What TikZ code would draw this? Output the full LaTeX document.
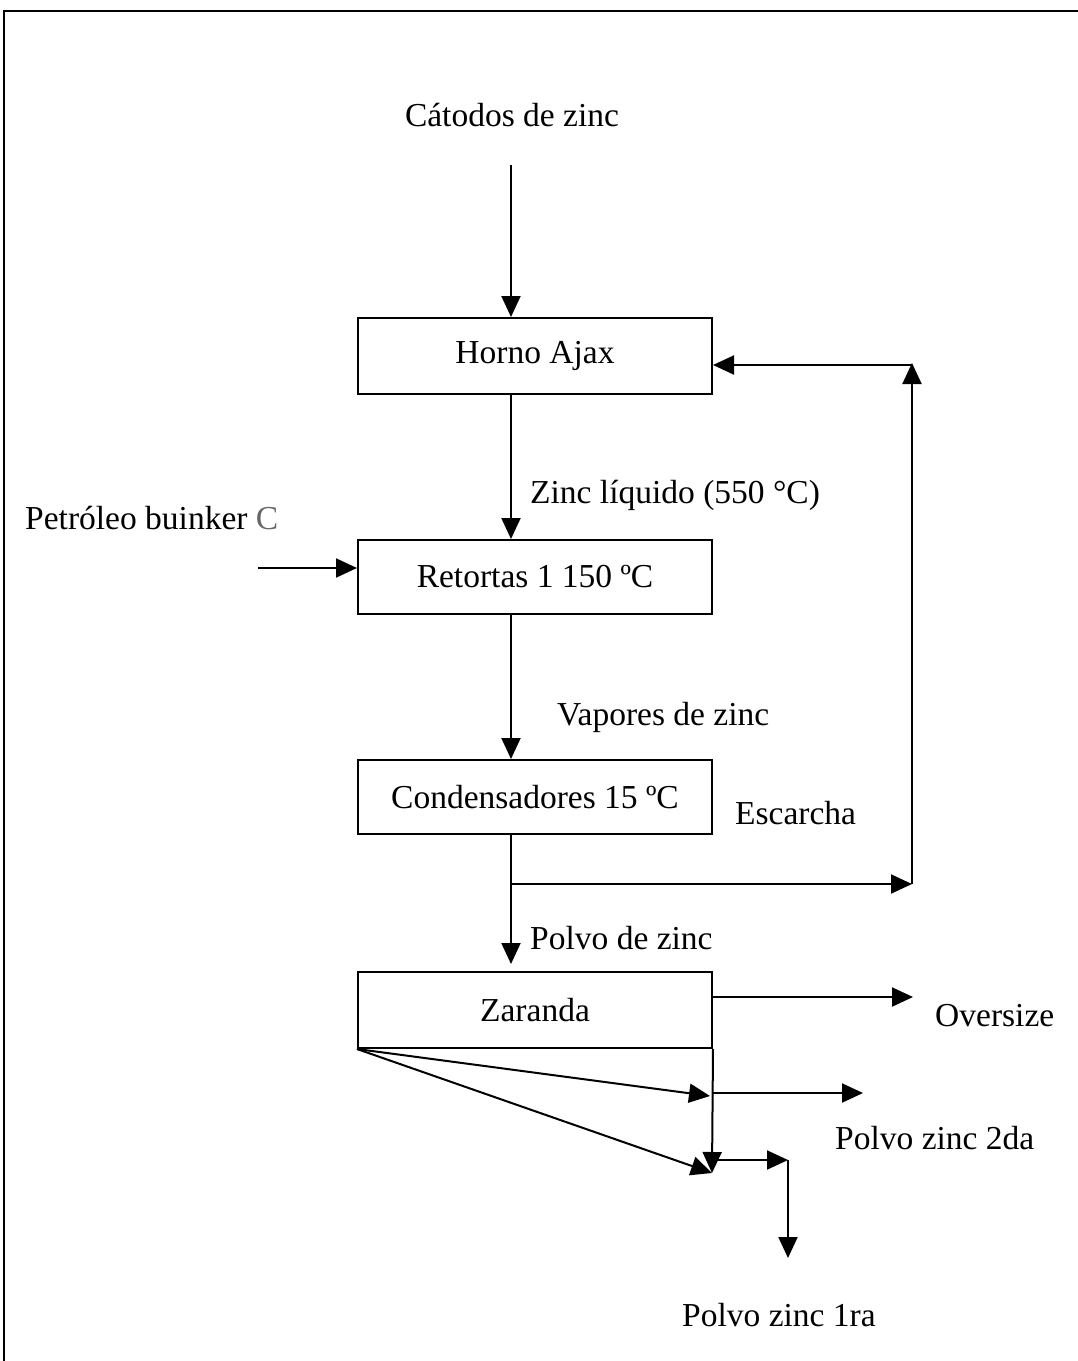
\documentclass[tikz,border=0pt]{standalone}
\usepackage{fontspec}
\setmainfont{Liberation Serif}
\usetikzlibrary{arrows.meta}
\begin{document}
\begin{tikzpicture}[x=1pt,y=-1pt,
  every node/.style={font=\fontsize{33.5}{40}\selectfont},
  box/.style={draw, line width=2pt, minimum width=354pt, inner sep=0pt},
  lbl/.style={anchor=base west, inner sep=0pt},
  line/.style={line width=2pt},
  arr/.style={line width=2pt, -{Triangle[length=21pt,width=19pt]}}]
\useasboundingbox (0,0) rectangle (1078,1361);
% outer frame (top and left edges)
\draw[line width=2.5pt] (4,1361) -- (4,11) -- (1078,11);

% process boxes
\node[box, minimum height=76pt] (horno) at (535,356) {Horno Ajax};
\node[box, minimum height=74pt] (ret) at (535,577) {Retortas 1 150 ºC};
\node[box, minimum height=74pt] (cond) at (535,797) {Condensadores 15 ºC};
\node[box, minimum height=76pt] (zar) at (535,1010) {Zaranda};

% texts
\node[anchor=base, inner sep=0pt] (cat) at (512,126) {Cátodos de zinc};
\node[lbl] (zl) at (530,503) {Zinc líquido (550 °C)};
\node[lbl] (pet) at (25,529) {Petróleo buinker \textcolor{black!60}{C}};
\node[lbl] (vap) at (557,725) {Vapores de zinc};
\node[lbl] (esc) at (735,824) {Escarcha};
\node[lbl] (pdz) at (530,949) {Polvo de zinc};
\node[lbl] (ovs) at (935,1026) {Oversize};
\node[lbl] (p2) at (835,1149) {Polvo zinc 2da};
\node[lbl] (p1) at (682,1326) {Polvo zinc 1ra};

% connector points
\coordinate (c0) at (511,165);
\coordinate (pin) at (258,568);
\coordinate (br) at (511,884);
\coordinate (fb) at (912,884);
\coordinate (fbt) at (912,365);
\coordinate (zin) at (511,964);
\coordinate (ov) at (913,997);
\coordinate (f2) at (710,1096);
\coordinate (f1) at (712,1173);
\coordinate (s2) at (863,1093);
\coordinate (s1) at (788,1160);
\coordinate (s1d) at (788,1258);

% main flow
\draw[arr] (c0) -- (horno.north -| c0);
\draw[arr] (horno.south -| c0) -- (ret.north -| c0);
\draw[arr] (pin) -- (pin -| ret.west);
\draw[arr] (ret.south -| c0) -- (cond.north -| c0);
\draw[arr] (cond.south -| c0) -- (zin);

% recycle of frost to the furnace
\draw[arr] (br) -- (fb);
\draw[arr] (fb) -- ([yshift=2pt]fbt);
\draw[arr] (fbt) -- (fbt -| horno.east);

% screen products
\draw[arr] (ov -| zar.east) -- (ov);
\draw[arr] (zar.south west) -- (f2);
\draw[arr] (zar.south west) -- (f1);
\draw[arr] (zar.south east) -- (f1);
\draw[arr] (s2 -| zar.east) -- (s2);
\draw[arr] (s1 -| zar.east) -- (s1);
\draw[arr] (s1) -- (s1d);
\end{tikzpicture}
\end{document}
